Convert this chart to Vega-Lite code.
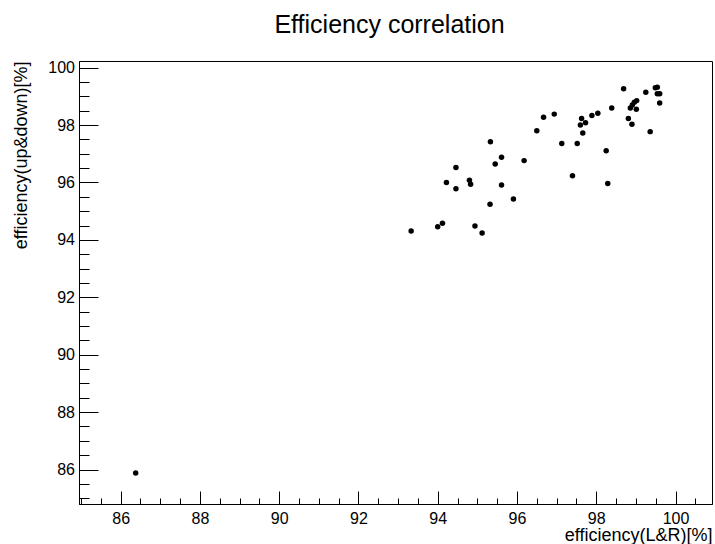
{
  "$schema": "https://vega.github.io/schema/vega-lite/v6.json",
  "width": 633,
  "height": 443,
  "autosize": "none",
  "padding": {"left": 79, "top": 61, "right": 3, "bottom": 40},
  "background": "white",
  "title": {"text": "Efficiency correlation", "font": "Liberation Sans", "fontSize": 25, "fontWeight": "normal", "color": "black", "anchor": "middle", "baseline": "alphabetic", "offset": 1, "dx": -6, "dy": -1},
  "config": {
    "view": {"stroke": "black", "strokeWidth": 1},
    "axis": {"domainColor": "black", "tickColor": "black", "labelColor": "black", "titleColor": "black", "labelFont": "Liberation Sans", "titleFont": "Liberation Sans", "labelFontSize": 16, "titleFontSize": 18, "titleFontWeight": "normal", "grid": false}
  },
  "data": {"values": [
    {"x": 86.38, "y": 85.88},
    {"x": 95.33, "y": 97.42},
    {"x": 96.67, "y": 98.27},
    {"x": 96.94, "y": 98.38},
    {"x": 96.50, "y": 97.80},
    {"x": 95.61, "y": 96.88},
    {"x": 95.45, "y": 96.64},
    {"x": 96.18, "y": 96.76},
    {"x": 94.46, "y": 96.52},
    {"x": 94.22, "y": 96.00},
    {"x": 94.46, "y": 95.78},
    {"x": 94.80, "y": 96.08},
    {"x": 94.83, "y": 95.94},
    {"x": 95.61, "y": 95.91},
    {"x": 95.32, "y": 95.24},
    {"x": 95.91, "y": 95.42},
    {"x": 93.33, "y": 94.31},
    {"x": 94.00, "y": 94.46},
    {"x": 94.12, "y": 94.58},
    {"x": 94.94, "y": 94.48},
    {"x": 95.12, "y": 94.24},
    {"x": 98.69, "y": 99.26},
    {"x": 99.25, "y": 99.14},
    {"x": 99.49, "y": 99.30},
    {"x": 99.54, "y": 99.32},
    {"x": 99.54, "y": 99.09},
    {"x": 99.60, "y": 99.09},
    {"x": 99.60, "y": 98.77},
    {"x": 98.39, "y": 98.59},
    {"x": 98.04, "y": 98.41},
    {"x": 97.89, "y": 98.33},
    {"x": 97.63, "y": 98.23},
    {"x": 97.73, "y": 98.08},
    {"x": 97.60, "y": 98.00},
    {"x": 97.66, "y": 97.72},
    {"x": 97.13, "y": 97.36},
    {"x": 97.52, "y": 97.36},
    {"x": 98.25, "y": 97.10},
    {"x": 97.40, "y": 96.23},
    {"x": 99.02, "y": 98.85},
    {"x": 98.96, "y": 98.79},
    {"x": 98.91, "y": 98.70},
    {"x": 98.86, "y": 98.59},
    {"x": 99.01, "y": 98.55},
    {"x": 98.81, "y": 98.23},
    {"x": 98.90, "y": 98.03},
    {"x": 99.36, "y": 97.77},
    {"x": 98.29, "y": 95.96}
  ]},
  "layer": [
    {
      "mark": {"type": "point", "opacity": 0},
      "encoding": {
        "x": {"field": "x", "type": "quantitative", "scale": {"domain": [84.95, 100.92], "nice": false, "zero": false},
          "axis": {"orient": "bottom", "values": [85, 85.5, 86, 86.5, 87, 87.5, 88, 88.5, 89, 89.5, 90, 90.5, 91, 91.5, 92, 92.5, 93, 93.5, 94, 94.5, 95, 95.5, 96, 96.5, 97, 97.5, 98, 98.5, 99, 99.5, 100, 100.5], "labels": false, "title": null, "domain": false, "tickSize": -6}},
        "y": {"field": "y", "type": "quantitative", "scale": {"domain": [84.80, 100.23], "nice": false, "zero": false},
          "axis": {"orient": "left", "values": [85, 85.5, 86, 86.5, 87, 87.5, 88, 88.5, 89, 89.5, 90, 90.5, 91, 91.5, 92, 92.5, 93, 93.5, 94, 94.5, 95, 95.5, 96, 96.5, 97, 97.5, 98, 98.5, 99, 99.5, 100], "labels": false, "title": null, "domain": false, "tickSize": -10}}
      }
    },
    {
      "mark": {"type": "point", "filled": true, "color": "black", "size": 30, "opacity": 1},
      "encoding": {
        "x": {"field": "x", "type": "quantitative", "scale": {"domain": [84.95, 100.92], "nice": false, "zero": false},
          "axis": {"orient": "bottom", "values": [86, 88, 90, 92, 94, 96, 98, 100], "format": "d", "tickSize": -13, "labelPadding": 19, "title": "efficiency(L&R)[%]", "titleAnchor": "end", "titleAlign": "right", "titleX": 633, "titleY": 36, "titleBaseline": "alphabetic"}},
        "y": {"field": "y", "type": "quantitative", "scale": {"domain": [84.80, 100.23], "nice": false, "zero": false},
          "axis": {"orient": "left", "values": [86, 88, 90, 92, 94, 96, 98, 100], "format": "d", "tickSize": -19, "labelPadding": 23.5, "title": "efficiency(up&down)[%]", "titleAngle": 270, "titleAlign": "right", "titleBaseline": "alphabetic", "titleX": -53, "titleY": 0}}
      }
    }
  ],
  "resolve": {"axis": {"x": "independent", "y": "independent"}}
}
